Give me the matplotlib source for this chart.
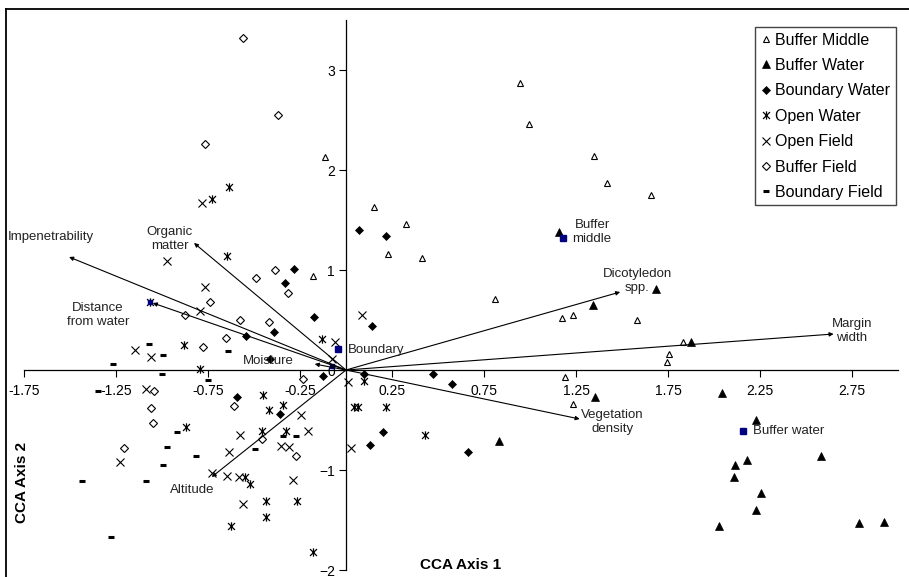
import matplotlib.pyplot as plt
from matplotlib.path import Path
from matplotlib.lines import Line2D

plt.rcParams['font.family'] = ['Liberation Sans', 'DejaVu Sans']

# CCA site scores
buffer_middle_x = [0.946, 0.995, 1.348, 1.418, 1.658, 0.810, 1.174, 1.234, 1.582, 1.832,
                   1.755, 1.745, 1.190, 1.234, -0.114, -0.179, 0.152, 0.326, 0.228, 0.413]
buffer_middle_y = [2.87, 2.46, 2.14, 1.87, 1.75, 0.71, 0.52, 0.55, 0.50, 0.28,
                   0.16, 0.08, -0.07, -0.34, 2.13, 0.94, 1.63, 1.46, 1.16, 1.12]

buffer_water_x = [1.158, 1.342, 1.685, 1.875, 1.353, 0.832, 2.043, 2.228, 2.582, 2.114,
                  2.179, 2.109, 2.255, 2.228, 2.027, 2.788, 2.924]
buffer_water_y = [1.38, 0.65, 0.81, 0.28, -0.27, -0.71, -0.23, -0.50, -0.86, -0.95,
                  -0.90, -1.07, -1.23, -1.40, -1.56, -1.53, -1.52]

boundary_water_x = [0.071, 0.217, -0.283, -0.332, -0.174, 0.141, -0.391, -0.543, -0.413,
                    -0.125, 0.098, 0.473, 0.576, -0.592, -0.359, 0.201, 0.130, 0.663]
boundary_water_y = [1.40, 1.34, 1.01, 0.87, 0.53, 0.44, 0.38, 0.34, 0.11,
                    -0.06, -0.04, -0.04, -0.14, -0.27, -0.44, -0.62, -0.75, -0.82]

open_water_x = [-0.636, -0.728, -0.647, -1.065, -0.880, -0.793, -0.130, 0.098, -0.451,
                -0.342, -0.418, 0.043, 0.065, 0.217, -0.870, -0.457, -0.326, 0.429,
                -0.549, -0.522, -0.435, -0.266, -0.435, -0.625, -0.179]
open_water_y = [1.83, 1.71, 1.14, 0.68, 0.25, 0.01, 0.31, -0.11, -0.25,
                -0.35, -0.40, -0.37, -0.37, -0.37, -0.57, -0.61, -0.61, -0.65,
                -1.07, -1.14, -1.31, -1.31, -1.47, -1.56, -1.82]

open_field_x = [-0.783, -0.973, -0.766, -0.793, -1.147, -1.060, -1.087, 0.087, -0.060,
                -0.076, 0.011, -0.245, -0.207, -0.576, -0.636, -0.353, -0.310, 0.027,
                -1.228, -0.728, -0.647, -0.582, -0.288, -0.560]
open_field_y = [1.67, 1.09, 0.83, 0.59, 0.20, 0.13, -0.19, 0.55, 0.28,
                0.11, -0.12, -0.45, -0.61, -0.65, -0.82, -0.76, -0.77, -0.78,
                -0.92, -1.03, -1.06, -1.07, -1.10, -1.34]

buffer_field_x = [-0.560, -0.370, -0.766, -0.489, -0.386, -0.315, -0.739, -0.875, -0.576,
                  -0.418, -0.652, -0.777, -0.234, -1.043, -1.060, -1.049, -1.207, -0.609,
                  -0.457, -0.272]
buffer_field_y = [3.32, 2.55, 2.26, 0.92, 1.00, 0.77, 0.68, 0.55, 0.50,
                  0.48, 0.32, 0.23, -0.09, -0.21, -0.38, -0.53, -0.78, -0.36,
                  -0.69, -0.86]

boundary_field_x = [-1.071, -0.995, -0.641, -1.266, -1.000, -0.750, -1.348, -0.918, -0.973,
                    -0.815, -0.995, -0.495, -0.342, -0.272, -1.435, -1.087, -1.277]
boundary_field_y = [0.26, 0.15, 0.19, 0.06, -0.04, -0.10, -0.21, -0.62, -0.77,
                    -0.86, -0.95, -0.79, -0.66, -0.66, -1.11, -1.11, -1.67]

# group centroids
centroid_names = ['Buffer\nmiddle', 'Boundary', 'Buffer water', '', '']
centroid_x = [1.18, -0.043, 2.158, -1.065, -0.076]
centroid_y = [1.32, 0.21, -0.61, 0.68, 0.04]

# environmental variable vectors
env_names = ['Impenetrability', 'Organic\nmatter', 'Distance\nfrom water', 'Moisture',
             'Altitude', 'Dicotyledon\nspp.', 'Margin\nwidth', 'Vegetation\ndensity']
env_x = [-1.505, -0.826, -1.05, -0.17, -0.73, 1.49, 2.65, 1.27]
env_y = [1.13, 1.27, 0.67, 0.06, -1.07, 0.78, 0.36, -0.49]

x_ticks = [-1.75, -1.25, -0.75, -0.25, 0.25, 0.75, 1.25, 1.75, 2.25, 2.75]
y_ticks = [-2, -1, 0, 1, 2, 3]

# excel style star marker: an x with a vertical bar
star = Path([(-1, -1), (1, 1), (-1, 1), (1, -1), (0, -1.2), (0, 1.2)],
            [Path.MOVETO, Path.LINETO] * 3)

styles = {
    'Buffer Middle': dict(marker='^', ms=5, mfc='white', mec='black', mew=0.8),
    'Buffer Water': dict(marker='^', ms=6, mfc='black', mec='black', mew=0.5),
    'Boundary Water': dict(marker='D', ms=4.5, mfc='black', mec='black', mew=0.5),
    'Open Water': dict(marker=star, ms=6, mfc='none', mec='black', mew=0.9),
    'Open Field': dict(marker='x', ms=5.5, mfc='none', mec='black', mew=0.8),
    'Buffer Field': dict(marker='D', ms=4.5, mfc='white', mec='black', mew=0.8),
    'Boundary Field': dict(marker='_', ms=4, mfc='black', mec='black', mew=2.2),
}
groups = {
    'Buffer Middle': (buffer_middle_x, buffer_middle_y),
    'Buffer Water': (buffer_water_x, buffer_water_y),
    'Boundary Water': (boundary_water_x, boundary_water_y),
    'Open Water': (open_water_x, open_water_y),
    'Open Field': (open_field_x, open_field_y),
    'Buffer Field': (buffer_field_x, buffer_field_y),
    'Boundary Field': (boundary_field_x, boundary_field_y),
}

fig = plt.figure(figsize=(9.09, 5.77), dpi=100)
ax = fig.add_axes([24 / 909, 7 / 577, 874 / 909, 550 / 577])
ax.set_xlim(-1.75, 3.0)
ax.set_ylim(-2, 3.5)

# frame lines on top and left of the chart area
fig.add_artist(Line2D([6 / 909, 1], [1 - 9 / 577, 1 - 9 / 577], color='black', lw=1.3))
fig.add_artist(Line2D([6 / 909, 6 / 909], [0, 1 - 9 / 577], color='black', lw=1.3))

for sp in ['top', 'right']:
    ax.spines[sp].set_visible(False)
ax.spines['left'].set_position(('data', 0))
ax.spines['bottom'].set_position(('data', 0))
ax.spines['left'].set_linewidth(0.9)
ax.spines['bottom'].set_linewidth(0.9)
ax.set_xticks(x_ticks)
ax.set_xticklabels([f'{t:g}' for t in x_ticks])
ax.set_yticks(y_ticks)
ax.tick_params(axis='x', direction='out', length=5, width=0.8, pad=5, labelsize=10)
ax.tick_params(axis='y', direction='out', length=5, width=0.8, pad=3, labelsize=10)
ax.patch.set_visible(False)

# vectors
for ex, ey in zip(env_x, env_y):
    ax.annotate('', xy=(ex, ey), xytext=(0, 0),
                arrowprops=dict(arrowstyle='-|>', lw=0.8, color='black',
                                mutation_scale=6, shrinkA=0, shrinkB=0))

label_pos = [(-1.837, 1.33, 'left'), (-0.957, 1.31, 'center'), (-1.348, 0.55, 'center'),
             (-0.424, 0.09, 'center'), (-0.837, -1.20, 'center'), (1.582, 0.89, 'center'),
             (2.75, 0.39, 'center'), (1.446, -0.52, 'center')]
for name, (lx, ly, ha) in zip(env_names, label_pos):
    ax.text(lx, ly, name, fontsize=9.5, ha=ha, va='center', linespacing=1.25,
            color='#222222')

for name, (gx, gy) in groups.items():
    ax.plot(gx, gy, ls='none', **styles[name])

ax.plot(centroid_x[:3], centroid_y[:3], ls='none', marker='s', ms=5, color='#000080')
ax.plot(centroid_x[3:], centroid_y[3:], ls='none', marker='s', ms=3.5, color='#000080')

cent_lab = [(1.337, 1.38, 'center'), (0.011, 0.20, 'left'), (2.212, -0.61, 'left')]
for name, (lx, ly, ha) in zip(centroid_names, cent_lab):
    ax.text(lx, ly, name, fontsize=9.5, ha=ha, va='center', linespacing=1.25,
            color='#222222')

ax.text(0.62, -1.95, 'CCA Axis 1', fontsize=11, fontweight='bold', ha='center',
        va='center', clip_on=False)
ax.text(-1.76, -1.12, 'CCA Axis 2', fontsize=11, fontweight='bold', ha='center',
        va='center', rotation=90, clip_on=False)

handles = [Line2D([], [], ls='none', **styles[n]) for n in groups]
leg = fig.legend(handles, list(groups), loc='upper right',
                 bbox_to_anchor=(896 / 909, 1 - 27 / 577), fontsize=11.5,
                 frameon=True, fancybox=False, edgecolor='#444444', framealpha=1,
                 handlelength=0.6, handletextpad=0.3, labelspacing=0.65,
                 borderpad=0.35, borderaxespad=0)
leg.get_frame().set_linewidth(1.0)

fig.savefig('out.png', dpi=100)
